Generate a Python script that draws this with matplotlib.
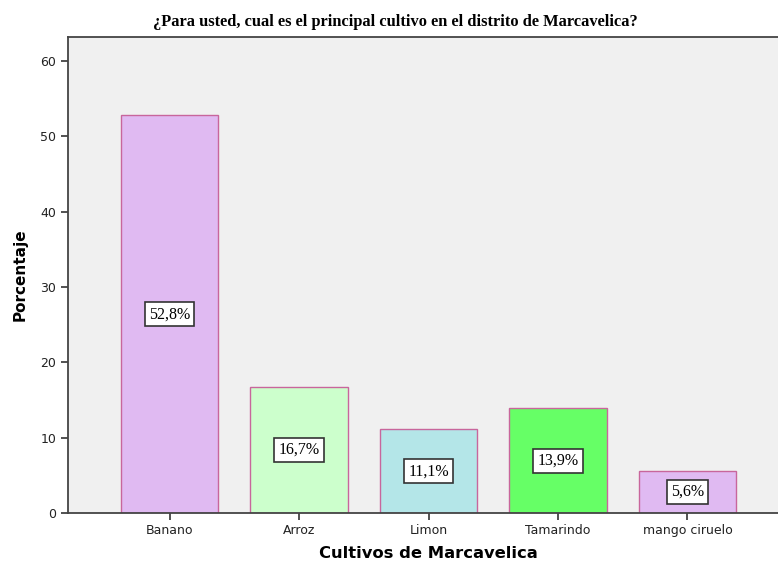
import matplotlib.pyplot as plt

# data
cultivos = ["Banano", "Arroz", "Limon", "Tamarindo", "mango ciruelo"]
porcentajes = [52.8, 16.7, 11.1, 13.9, 5.6]
etiquetas = ["52,8%", "16,7%", "11,1%", "13,9%", "5,6%"]
colores = ["#E0BAF2", "#CCFFCC", "#B4E6E8", "#66FF66", "#E0BAF2"]
yticks = [0, 10, 20, 30, 40, 50, 60]

W, H = 778, 562
fig = plt.figure(figsize=(W / 100, H / 100), dpi=100)
fig.patch.set_facecolor("white")

# axes in pixel coords (the right side runs off the canvas, like the original)
left, right, top, bottom = 68, 789, 37, 513
ax = fig.add_axes([left / W, 1 - bottom / H, (right - left) / W, (bottom - top) / H])
ax.set_facecolor("#F0F0F0")

x = range(len(cultivos))
ax.bar(x, porcentajes, width=0.75, color=colores, edgecolor="#C8669C", linewidth=1.0, zorder=2)

for i, (v, lab) in enumerate(zip(porcentajes, etiquetas)):
    ax.text(i, v / 2, lab, ha="center", va="center", fontsize=11.5,
            family="Liberation Serif", color="black", zorder=3,
            bbox=dict(boxstyle="square,pad=0.25", facecolor="white", edgecolor="#333333", linewidth=1.2))

ax.set_xlim(-0.784, len(cultivos) - 1 + 0.784)
ax.set_ylim(0, 63.2)
ax.set_yticks(yticks)
ax.set_xticks(list(x))
ax.set_xticklabels(cultivos)
ax.tick_params(axis="both", direction="out", length=5, width=1.2, color="#333333",
               labelsize=9, labelcolor="#222222")
ax.tick_params(axis="x", pad=3)

for s in ["left", "bottom", "top", "right"]:
    ax.spines[s].set_color("#444444")
    ax.spines[s].set_linewidth(1.3)

fig.text(395 / W, 1 - 22 / H, "¿Para usted, cual es el principal cultivo en el distrito de Marcavelica?",
         ha="center", va="center", fontsize=11.8, fontweight="bold", family="Liberation Serif")
fig.text(20 / W, 1 - 275 / H, "Porcentaje", rotation=90, ha="center", va="center",
         fontsize=11, fontweight="bold", family="DejaVu Sans")
fig.text(428 / W, 1 - 553 / H, "Cultivos de Marcavelica", ha="center", va="center",
         fontsize=11.8, fontweight="bold", family="DejaVu Sans")

fig.savefig("out.png", dpi=100)
